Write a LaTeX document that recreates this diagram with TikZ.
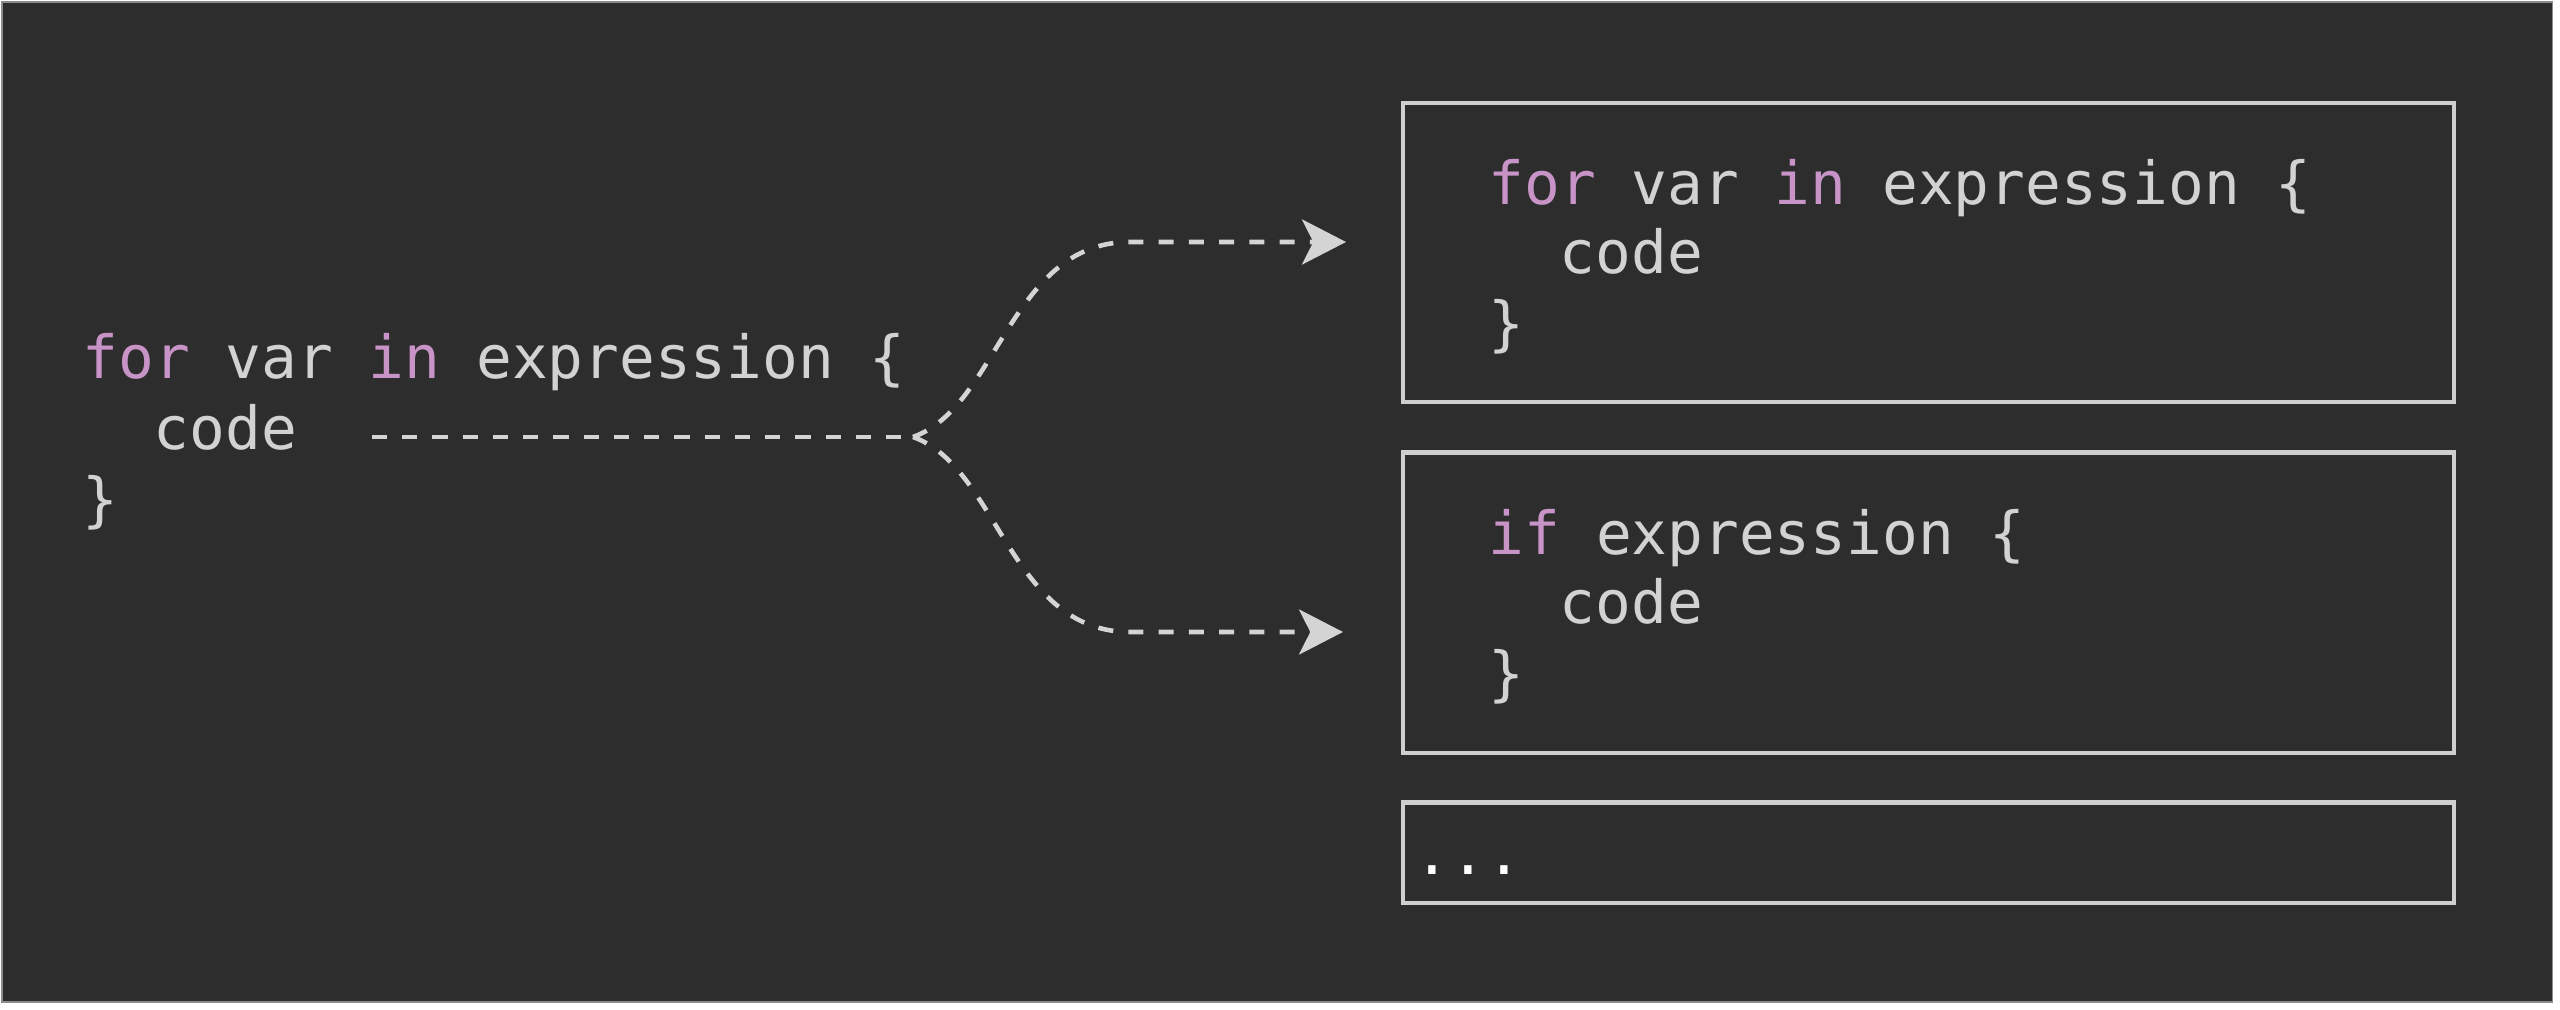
\documentclass[tikz,border=0pt]{standalone}
\usepackage{fontspec}
\setmonofont{DejaVu Sans Mono}
\usepackage{tikz}
\usetikzlibrary{arrows.meta,positioning}

\definecolor{bgdark}{HTML}{2D2D2D}
\definecolor{framegray}{HTML}{8C8C8C}
\definecolor{codegray}{HTML}{D2D2D2}
\definecolor{keyword}{HTML}{C894C8}
\definecolor{boxgray}{HTML}{CFCFCF}
\definecolor{flowgray}{HTML}{D4D4D4}
\newcommand{\kwd}[1]{\textcolor{keyword}{#1}}

\begin{document}
\begin{tikzpicture}[x=0.01cm,y=-0.01cm,
  code line/.style={anchor=base west,inner sep=0pt,text=codegray,
  font=\ttfamily\fontsize{16.9}{20}\selectfont},
  code box/.style={draw=boxgray,line width=1.2pt,minimum width=10.51cm,inner sep=0pt},
  flow/.style={draw=flowgray,line width=1.3pt,dash pattern=on 4.3pt off 4.3pt},
  >={Stealth[length=12.5pt,width=12.8pt,inset=3.2pt]}]

  \useasboundingbox (0,0) rectangle (2560,1010);
  \fill[bgdark,draw=framegray,line width=0.3pt] (2,2) rectangle (2552,1002);

%loop on the left
  \node[code line] (lfor) at (82,379) {\kwd{for} var \kwd{in} expression \{};
  \node[code line] (lcode) at (153,450) {code};
  \node[code line] (lclose) at (82,521) {\}};

%boxes on the right
  \node[code box,minimum height=2.993cm] (forbox) at (1928.5,252.4) {};
  \node[code box,minimum height=3cm] (ifbox) at (1928.5,602.7) {};
  \node[code box,minimum height=1cm] (morebox) at (1928.5,852.6) {};

  \node[code line] (bfor) at (1488,205) {\kwd{for} var \kwd{in} expression \{};
  \node[code line] (bforcode) at (1559,274) {code};
  \node[code line] (bforclose) at (1488,345) {\}};

  \node[code line] (bif) at (1488,555) {\kwd{if} expression \{};
  \node[code line] (bifcode) at (1559,624) {code};
  \node[code line] (bifclose) at (1488,695) {\}};

  \node[code line,text=white] (bmore) at (1414,875) {...};

%connexion
  \coordinate (dstart) at (372,437);
  \coordinate (split) at (913,437);
  \coordinate (upbend) at (1130,242);
  \coordinate (upend) at (1346,242);
  \coordinate (lowbend) at (1130,632);
  \coordinate (lowend) at (1343,632);

  \draw[flow] (dstart) -- (split);
  \draw[flow,->] (split) .. controls +(85,-30) and +(-120,0) .. (upbend) -- (upend);
  \draw[flow,->] (split) .. controls +(85,30) and +(-120,0) .. (lowbend) -- (lowend);

\end{tikzpicture}
\end{document}
